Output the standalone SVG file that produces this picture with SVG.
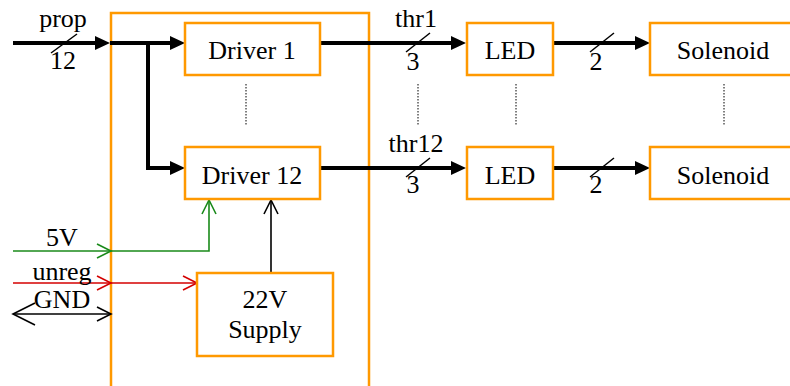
<svg xmlns="http://www.w3.org/2000/svg" width="790" height="386" viewBox="0 0 790 386">
<style>
.box{fill:#fff;stroke:#FF9900;stroke-width:2.5}
.frame{fill:none;stroke:#FF9900;stroke-width:2.5}
.t{font-family:"Liberation Serif","Times New Roman",serif;font-size:26px;fill:#000;text-anchor:middle}
.bus{fill:none;stroke:#000;stroke-width:4;stroke-linejoin:miter}
.slash{stroke:#000;stroke-width:1.5}
.dot{stroke:#000;stroke-width:1;stroke-dasharray:1.5 1.5}
.thin{fill:none;stroke-width:1.6}
</style>
<defs>
<marker id="fa" markerUnits="userSpaceOnUse" markerWidth="16" markerHeight="16" refX="5" refY="7" orient="auto">
<path d="M0,0 L15,7 L0,14 z" fill="#000"/>
</marker>
<marker id="og" markerUnits="userSpaceOnUse" markerWidth="18" markerHeight="18" refX="15" refY="8" orient="auto">
<path d="M1,1 L15,8 L1,15" fill="none" stroke="#1a8a1a" stroke-width="1.6"/>
</marker>
<marker id="or" markerUnits="userSpaceOnUse" markerWidth="18" markerHeight="18" refX="15" refY="8" orient="auto">
<path d="M1,1 L15,8 L1,15" fill="none" stroke="#d40000" stroke-width="1.6"/>
</marker>
<marker id="ok" markerUnits="userSpaceOnUse" markerWidth="18" markerHeight="18" refX="15" refY="8" orient="auto-start-reverse">
<path d="M1,1 L15,8 L1,15" fill="none" stroke="#000" stroke-width="1.6"/>
</marker>
<marker id="okL" markerUnits="userSpaceOnUse" markerWidth="26" markerHeight="28" refX="23" refY="12" orient="auto-start-reverse">
<path d="M1,1 L23,12 L1,23" fill="none" stroke="#000" stroke-width="1.6"/>
</marker>
</defs>

<g id="controller">
<rect class="frame" x="111" y="13" width="258" height="400"/>
</g>

<g id="connectors">
<line class="bus" x1="13" y1="43" x2="100" y2="43" marker-end="url(#fa)"/>
<line class="bus" x1="110" y1="43" x2="175" y2="43" marker-end="url(#fa)"/>
<polyline class="bus" points="148,43 148,168 175,168" marker-end="url(#fa)"/>
<line class="bus" x1="320" y1="43" x2="456" y2="43" marker-end="url(#fa)"/>
<line class="bus" x1="320" y1="168" x2="456" y2="168" marker-end="url(#fa)"/>
<line class="bus" x1="553" y1="43" x2="640" y2="43" marker-end="url(#fa)"/>
<line class="bus" x1="553" y1="168" x2="640" y2="168" marker-end="url(#fa)"/>
<line class="slash" x1="51" y1="53" x2="77" y2="34"/>
<line class="slash" x1="406" y1="52" x2="430" y2="33"/>
<line class="slash" x1="406" y1="177" x2="430" y2="158"/>
<line class="slash" x1="590" y1="52" x2="614" y2="33"/>
<line class="slash" x1="590" y1="177" x2="614" y2="158"/>
<line class="dot" x1="246" y1="84" x2="246" y2="126"/>
<line class="dot" x1="418" y1="84" x2="418" y2="126"/>
<line class="dot" x1="516" y1="84" x2="516" y2="126"/>
<line class="dot" x1="724" y1="84" x2="724" y2="126"/>
<line class="thin" stroke="#1a8a1a" x1="13" y1="251" x2="111" y2="251" marker-end="url(#og)"/>
<polyline class="thin" stroke="#1a8a1a" points="111,251 209,251 209,200" marker-end="url(#og)"/>
<line class="thin" stroke="#d40000" x1="13" y1="283" x2="111" y2="283" marker-end="url(#or)"/>
<line class="thin" stroke="#d40000" x1="111" y1="283" x2="197" y2="283" marker-end="url(#or)"/>
<line class="thin" stroke="#000" x1="13" y1="314" x2="111" y2="314" marker-start="url(#okL)" marker-end="url(#ok)"/>
<line class="thin" stroke="#000" x1="271" y1="273" x2="271" y2="200" marker-end="url(#ok)"/>
</g>

<g id="labels">
<text class="t" x="63" y="27">prop</text>
<text class="t" x="63" y="69">12</text>
<text class="t" x="416" y="27">thr1</text>
<text class="t" x="413" y="70">3</text>
<text class="t" x="416" y="152">thr12</text>
<text class="t" x="413" y="193">3</text>
<text class="t" x="596" y="70">2</text>
<text class="t" x="596" y="193">2</text>
<text class="t" x="62" y="246">5V</text>
<text class="t" x="62" y="280">unreg</text>
<text class="t" x="62" y="308">GND</text>
</g>

<g id="driver1">
<rect class="box" x="185" y="23" width="135" height="52"/>
<text class="t" x="252" y="59">Driver 1</text>
</g>
<g id="driver12">
<rect class="box" x="185" y="147" width="135" height="52"/>
<text class="t" x="252" y="184">Driver 12</text>
</g>
<g id="led1">
<rect class="box" x="467" y="23" width="86" height="52"/>
<text class="t" x="510" y="59">LED</text>
</g>
<g id="led12">
<rect class="box" x="467" y="147" width="86" height="52"/>
<text class="t" x="510" y="184">LED</text>
</g>
<g id="solenoid1">
<rect class="box" x="650" y="23" width="160" height="52"/>
<text class="t" x="723" y="59">Solenoid</text>
</g>
<g id="solenoid12">
<rect class="box" x="650" y="147" width="160" height="52"/>
<text class="t" x="723" y="184">Solenoid</text>
</g>
<g id="supply">
<rect class="box" x="197" y="273" width="136" height="83"/>
<text class="t" x="265" y="308">22V</text>
<text class="t" x="265" y="338">Supply</text>
</g>
</svg>
